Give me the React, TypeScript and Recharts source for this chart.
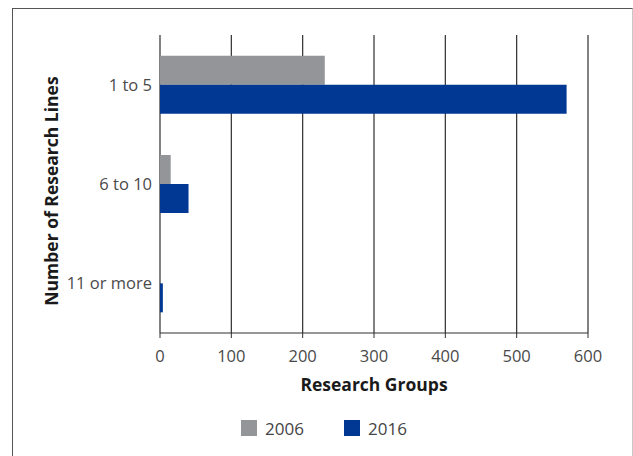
import React from "react";
import { BarChart, Bar, XAxis, YAxis, CartesianGrid, Legend } from "recharts";

const categories = ["1 to 5", "6 to 10", "11 or more"];
const values2006 = [231, 15, 0];
const values2016 = [570, 40, 4];
const xTicks = [0, 100, 200, 300, 400, 500, 600];
const seriesNames = ["2006", "2016"];
const seriesColors = ["#939598", "#003893"];

const data = categories.map((c, i) => ({ name: c, s2006: values2006[i], s2016: values2016[i] }));

const FONT = "'Open Sans', 'Noto Sans', sans-serif";

const YTitle = (props: any) => {
  const vb = props.viewBox || {};
  const cx = vb.x + 51;
  const cy = vb.y + vb.height / 2 + 7;
  return (
    <text
      x={cx}
      y={cy}
      transform={`rotate(-90, ${cx}, ${cy})`}
      textAnchor="middle"
      dominantBaseline="central"
      fontFamily={FONT}
      fontWeight={700}
      fontSize={17.5}
      fill="#1a1a1a"
    >
      Number of Research Lines
    </text>
  );
};

const LegendContent = () => (
  <div style={{ height: 40, display: "flex", justifyContent: "center", alignItems: "center", fontFamily: FONT, fontSize: 17, color: "#444", paddingLeft: 60, boxSizing: "border-box" }}>
    {seriesNames.map((n, i) => (
      <div key={n} style={{ display: "flex", alignItems: "center", marginLeft: i === 0 ? 0 : 40 }}>
        <span style={{ display: "inline-block", width: 16, height: 16, background: seriesColors[i], marginRight: 8 }} />
        <span>{n}</span>
      </div>
    ))}
  </div>
);

export default function App() {
  return (
    <div style={{ position: "absolute", left: 0, top: 0, width: 633, height: 456, background: "#fff", overflow: "hidden" }}>
      <div
        style={{
          position: "absolute",
          left: 12,
          top: 8,
          width: 619,
          height: 470,
          borderTop: "1px solid #555",
          borderLeft: "1px solid #555",
          borderRight: "1px solid #c8c8c8",
        }}
      />
      <div style={{ position: "absolute", left: 0, top: 0 }}>
        <BarChart
          width={633}
          height={456}
          data={data}
          layout="vertical"
          margin={{ top: 35, right: 45, left: 0, bottom: 8 }}
          barCategoryGap="20.8%"
          barGap={0}
        >
          <CartesianGrid horizontal={false} stroke="#2e2e2e" strokeWidth={1.2} />
          <XAxis
            type="number"
            domain={[0, 600]}
            ticks={xTicks}
            interval={0}
            height={75}
            tickSize={5}
            tickMargin={12}
            stroke="#2e2e2e"
            tick={{ fill: "#4a4a4a", fontSize: 16.5, fontFamily: FONT }}
            label={{ value: "Research Groups", position: "insideBottom", offset: 17, fill: "#1a1a1a", fontSize: 17.5, fontWeight: 700, fontFamily: FONT }}
          />
          <YAxis
            type="category"
            dataKey="name"
            width={160}
            tickSize={0}
            tickMargin={8}
            axisLine={false}
            tick={{ fill: "#4a4a4a", fontSize: 16.5, fontFamily: FONT }}
            label={<YTitle />}
          />
          <Legend verticalAlign="bottom" height={40} content={<LegendContent />} />
          <Bar dataKey="s2006" name={seriesNames[0]} fill={seriesColors[0]} isAnimationActive={false} />
          <Bar dataKey="s2016" name={seriesNames[1]} fill={seriesColors[1]} isAnimationActive={false} />
        </BarChart>
      </div>
    </div>
  );
}
